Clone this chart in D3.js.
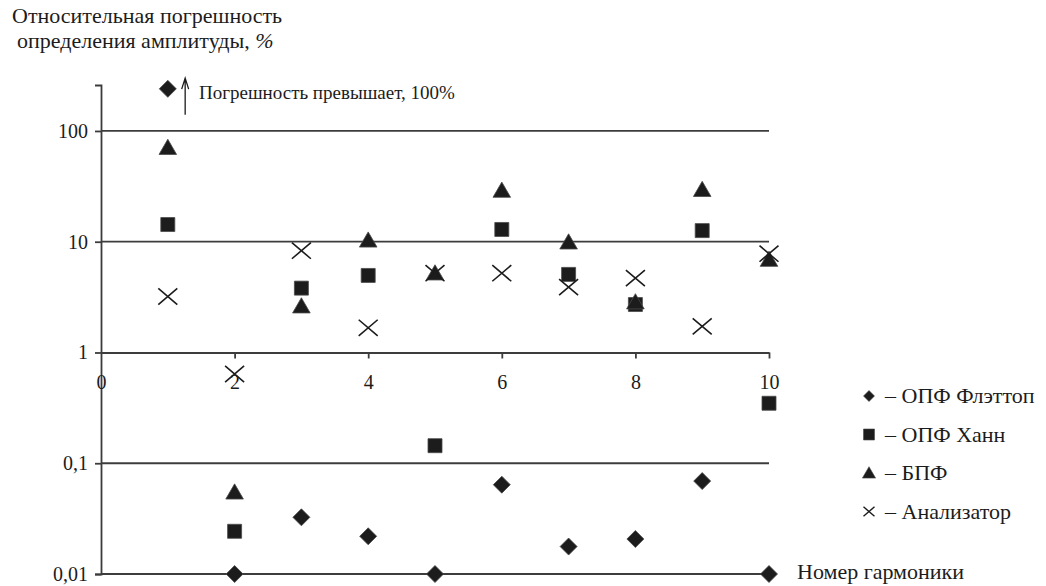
<!DOCTYPE html>
<html>
<head>
<meta charset="utf-8">
<script src="https://cdn.jsdelivr.net/npm/d3@7"></script>
<style>
  body { margin: 0; background: #fff; }
  svg { display: block; font-family: "Liberation Serif", "Times New Roman", serif; }
</style>
</head>
<body>
<svg id="chart" width="1046" height="586"></svg>
<script>
// Harmonic numbers and relative amplitude error (%) for each method
const harmonics = [1, 2, 3, 4, 5, 6, 7, 8, 9, 10];
const flattop  = [240, 0.01, 0.0325, 0.0219, 0.01, 0.064, 0.0177, 0.0207, 0.069, 0.01];
const hann     = [14.3, 0.0243, 3.81, 4.96, 0.144, 12.9, 5.07, 2.71, 12.6, 0.348];
const fft      = [70.7, 0.0547, 2.62, 10.3, 5.2, 29, 9.9, 2.85, 29.5, 6.9];
const analyzer = [3.2, 0.64, 8.3, 1.67, 5.2, 5.2, 3.89, 4.69, 1.72, 7.8];

const xTicks = [0, 2, 4, 6, 8, 10];
const yTicks = [0.01, 0.1, 1, 10, 100];
const yTickLabels = ["0,01", "0,1", "1", "10", "100"];
const gridValues = [0.01, 0.1, 10, 100];

const legendLabels = ["ОПФ Флэттоп", "ОПФ Ханн", "БПФ", "Анализатор"];
const titleLines = ["Относительная погрешность", "определения амплитуды, "];
const xTitle = "Номер гармоники";
const noteText = "Погрешность превышает, 100%";

const svg = d3.select("#chart");
const ink = "#1c1c1c";
const lineCol = "#3c3c3c";
const tickFont = 20;

const x = d3.scaleLinear().domain([0, 10]).range([101, 769]);
const y = d3.scaleLog().domain([0.01, 260]).range([574, 85]);

// Horizontal reference lines
svg.append("g").selectAll("line").data(gridValues).join("line")
  .attr("x1", x(0)).attr("x2", x(10))
  .attr("y1", d => y(d)).attr("y2", d => y(d))
  .attr("stroke", lineCol).attr("stroke-width", 1.8);

// Vertical (log) axis
const yAxis = svg.append("g").attr("transform", `translate(${x(0)},0)`)
  .call(d3.axisLeft(y).tickValues(yTicks).tickSize(6).tickPadding(7)
    .tickFormat((d, i) => yTickLabels[i]));
yAxis.select(".domain").attr("stroke", lineCol).attr("stroke-width", 1.8);
yAxis.selectAll(".tick line").attr("stroke", lineCol).attr("stroke-width", 1.8);
yAxis.selectAll("text").attr("font-size", tickFont).attr("fill", ink)
  .attr("font-family", "Liberation Serif");

// Horizontal axis crossing at 1 %
const xAxis = svg.append("g").attr("transform", `translate(0,${y(1)})`)
  .call(d3.axisBottom(x).tickValues(xTicks).tickSize(6).tickPadding(16)
    .tickSizeOuter(0).tickFormat(d3.format("d")));
xAxis.select(".domain").attr("stroke", lineCol).attr("stroke-width", 1.8);
xAxis.selectAll(".tick line").attr("stroke", lineCol).attr("stroke-width", 1.8)
  .filter(d => d === 0).remove();
xAxis.selectAll("text").attr("font-size", tickFont).attr("fill", ink)
  .attr("font-family", "Liberation Serif");

// Marker shapes
const sym = {
  diamond: (s) => `M0,${-s}L${s},0L0,${s}L${-s},0Z`,
  square: (s) => `M${-s},${-s}H${s}V${s}H${-s}Z`,
  triangle: (s) => `M0,${-s * 1.05}L${s * 1.1},${s * 0.85}L${-s * 1.1},${s * 0.85}Z`,
  cross: (s) => `M${-s},${-s * 0.85}L${s},${s * 0.85}M${-s},${s * 0.85}L${s},${-s * 0.85}`
};

function drawSeries(values, shape, size, isStroke) {
  svg.append("g").selectAll("path").data(values.map((v, i) => [harmonics[i], v])).join("path")
    .attr("transform", d => `translate(${x(d[0])},${y(d[1])})`)
    .attr("d", sym[shape](size))
    .attr("fill", isStroke ? "none" : ink)
    .attr("stroke", isStroke ? ink : "#4a4a4a")
    .attr("stroke-width", isStroke ? 1.6 : 0.8);
}

drawSeries(hann, "square", 7, false);
drawSeries(fft, "triangle", 8, false);
drawSeries(analyzer, "cross", 9.5, true);
drawSeries(flattop, "diamond", 8.5, false);

// Arrow pointing to the off-scale value
const arrowX = x(1.26);
svg.append("path")
  .attr("d", `M${arrowX},${y(140)}V${y(300)}M${arrowX - 3.5},${y(300) + 11}L${arrowX},${y(300)}L${arrowX + 3.5},${y(300) + 11}`)
  .attr("fill", "none").attr("stroke", ink).attr("stroke-width", 1.3);
svg.append("text").attr("x", 199).attr("y", 99)
  .attr("font-size", 19).attr("fill", ink).text(noteText);

// Axis titles
const t = svg.append("text").attr("font-size", 22).attr("fill", ink);
t.append("tspan").attr("x", 12).attr("y", 23).text(titleLines[0]);
t.append("tspan").attr("x", 17).attr("y", 48).text(titleLines[1]);
t.append("tspan").attr("font-style", "italic").text("%");

svg.append("text").attr("x", 797).attr("y", 579)
  .attr("font-size", 22).attr("fill", ink).text(xTitle);

// Legend
const legendShapes = [["diamond", 5.5, false], ["square", 5.5, false], ["triangle", 6, false], ["cross", 5.5, true]];
const lg = svg.append("g");
legendLabels.forEach((lab, i) => {
  const ly = 396 + i * 38.5;
  const [shape, s, isStroke] = legendShapes[i];
  lg.append("path").attr("transform", `translate(869,${ly})`)
    .attr("d", sym[shape](s))
    .attr("fill", isStroke ? "none" : ink)
    .attr("stroke", isStroke ? ink : "#4a4a4a")
    .attr("stroke-width", isStroke ? 1.4 : 0.6);
  lg.append("text").attr("x", 885).attr("y", ly + 7)
    .attr("font-size", 22).attr("fill", ink).text("– " + lab);
});
</script>
</body>
</html>
